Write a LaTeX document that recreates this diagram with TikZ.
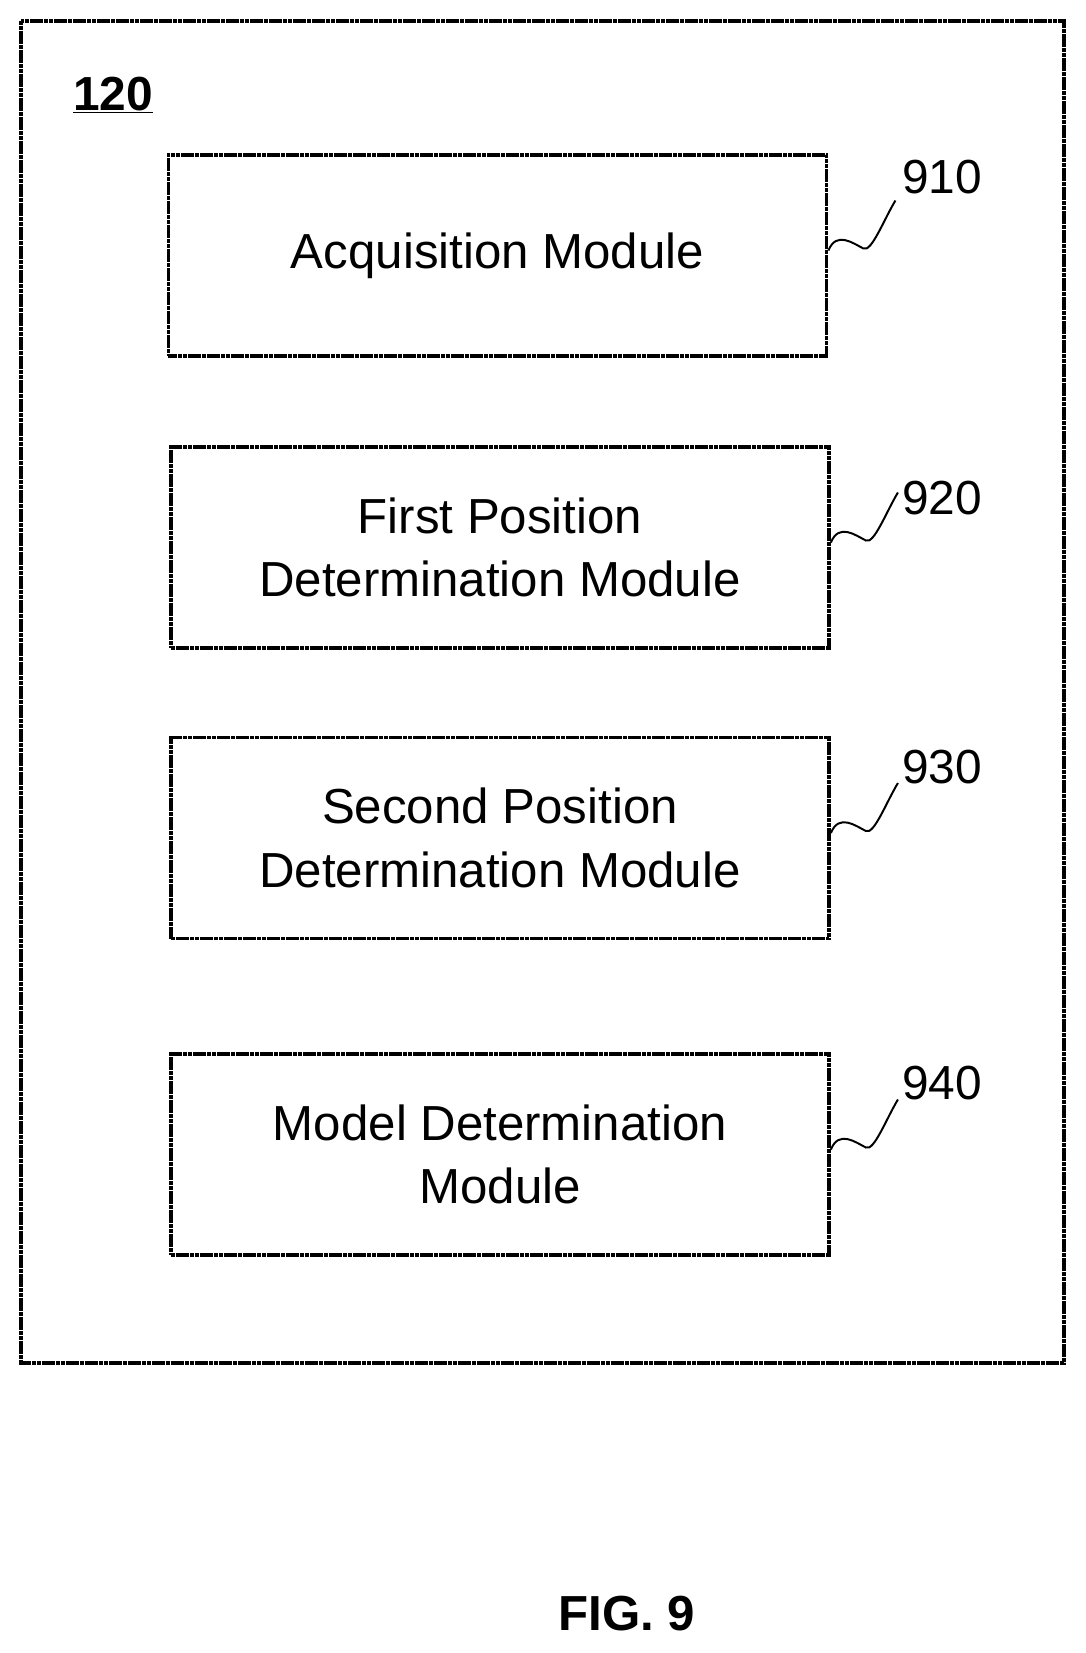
\documentclass[tikz,border=0pt]{standalone}
\usepackage{fontspec}
\setmainfont{Liberation Sans}
\usepackage{tikz}

\begin{document}
\begin{tikzpicture}[x=0.025cm,y=-0.025cm,
        module/.style={draw,line width=2.6pt,dash pattern=on 3pt off 0.4pt,align=center,
            minimum width=16.45cm,minimum height=5.03cm,inner sep=0pt,
            font=\fontsize{35}{45}\selectfont},
        refnum/.style={font=\fontsize{34}{38}\selectfont}]
        \useasboundingbox (0,0) rectangle (1086,1653);
        \draw[line width=2.8pt,dash pattern=on 3pt off 0.4pt] (21,21) rectangle (1064,1363);
        \node[font=\bfseries\fontsize{34}{38}\selectfont] (sys) at (113,95) {\underline{120}};
        % modules
        \node[module] (m910) at (497.5,255.5) {Acquisition Module};
        \node[module] (m920) at (500,547.5) {First Position\\Determination Module};
        \node[module] (m930) at (500,838) {Second Position\\Determination Module};
        \node[module] (m940) at (500,1154.5) {Model Determination\\Module};
        % reference numbers
        \foreach \n/\y in {910/177,920/498,930/767,940/1083}{
            \node[refnum] (r\n) at (942,\y) {\n};
            \draw[line width=1.4pt] (m\n.east) ++(0,-5) .. controls +(8,-20) and +(-10,-5) .. ++(35,-2)
                .. controls +(8,4) and +(-12,20) .. ++(32,-48);
        }
        \node[font=\bfseries\fontsize{35}{38}\selectfont] (fig) at (627,1614) {FIG. 9};
    \end{tikzpicture}
\end{document}
